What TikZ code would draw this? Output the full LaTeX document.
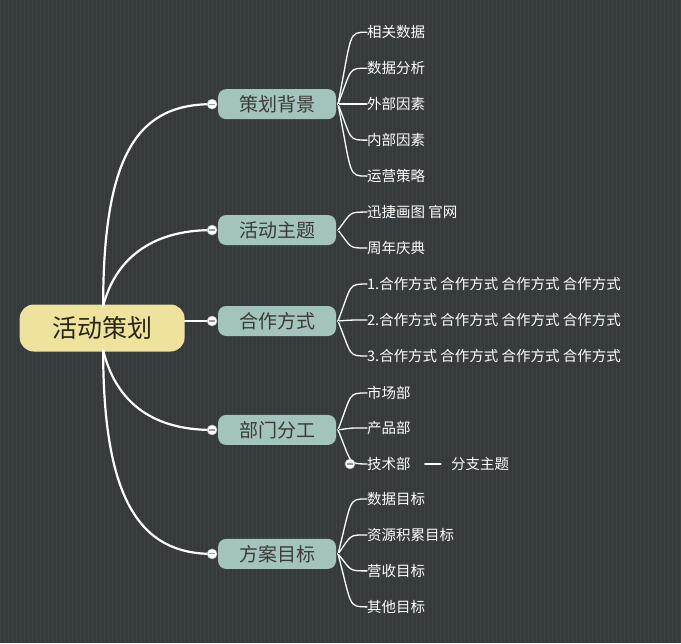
\documentclass[tikz,border=0pt]{standalone}
\usepackage{fontspec}
\setmainfont{Noto Sans CJK SC}
\usetikzlibrary{calc,positioning}
\definecolor{bgcol}{HTML}{353B3D}
\definecolor{gridcol}{HTML}{3C4244}
\definecolor{rootcol}{HTML}{EEE29C}
\definecolor{topiccol}{HTML}{A3C4BD}
\definecolor{darktxt}{HTML}{3A3A36}
\begin{document}
\begin{tikzpicture}[x=1pt,y=-1pt,
                        root/.style={fill=rootcol,rounded corners=14,minimum width=165,minimum height=47,
                        text=darktxt!80!yellow!40!black,font=\fontsize{25}{28}\selectfont},
                        topic/.style={fill=topiccol,rounded corners=8,minimum width=118,minimum height=30,
                        text=darktxt,font=\fontsize{19}{22}\selectfont},
                        leaf/.style={anchor=west,text=white,font=\fontsize{14.5}{17}\selectfont,inner sep=0},
                        link/.style={white,line width=2.2,line cap=round},
                        twig/.style={white,line width=1.3,line cap=round},
                        fold/.style={circle,fill=white,draw=gray!60,line width=0.5,minimum size=10,inner sep=0,
                        path picture={\draw[gray!80,line width=1.2] ($(path picture bounding box.west)+(2,0)$) -- ($(path picture bounding box.east)+(-2,0)$);}}
                        ]
                        % background
                        \fill[bgcol] (0,0) rectangle (681,643);
                        \draw[gridcol,line width=0.4] (0,0) grid[step=4] (681,643);
                        \useasboundingbox (0,0) rectangle (681,643);

                        \node[root] (root) at (102,328) {活动策划};
                        \coordinate (rtop) at (103,306);
                        \coordinate (rbot) at (103,350);

                        % main topics
                        \foreach \n/\y/\t in {bg/104/策划背景, zt/230/活动主题, hz/321/合作方式, bm/430/部门分工, fa/554/方案目标} {
                            \node[topic] (\n) at (277,\y) {\t};
                            \coordinate (\n-in) at (212,\y);
                            \coordinate (\n-out) at (338,\y);
                        }
                        \draw[link] (rtop) .. controls (103,150) and (140,104) .. (bg-in);
                        \draw[link] (rtop) .. controls (115,260) and (150,230) .. (zt-in);
                        \draw[link] (root.east |- hz-in) -- (hz-in);
                        \draw[link] (rbot) .. controls (115,400) and (150,430) .. (bm-in);
                        \draw[link] (rbot) .. controls (103,500) and (140,554) .. (fa-in);
                        \foreach \n in {bg,zt,hz,bm,fa} \node[fold] at (\n-in) {};

                        % leaves
                        \foreach \p/\i/\y/\t in {bg/1/32/相关数据, bg/2/68/数据分析, bg/3/104/外部因素, bg/4/140/内部因素, bg/5/176/运营策略,
                                                 zt/1/212/迅捷画图 官网, zt/2/248/周年庆典,
                                                 hz/1/284/1.合作方式 合作方式 合作方式 合作方式,
                                                 hz/2/320/2.合作方式 合作方式 合作方式 合作方式,
                                                 hz/3/356/3.合作方式 合作方式 合作方式 合作方式,
                                                 bm/1/393/市场部, bm/2/428/产品部, bm/3/464/技术部,
                                                 fa/1/499/数据目标, fa/2/535/资源积累目标, fa/3/571/营收目标, fa/4/607/其他目标} {
                            \node[leaf] (\p-\i) at (367,\y) {\t};
                            \draw[twig] (\p-out) .. controls (352,0.7*\y+0.3*\y) and (348,\y) .. (\p-\i.west) ;
                        }
                        % branch-point curves
                        \foreach \p/\i in {bg/1,bg/2,bg/3,bg/4,bg/5,zt/1,zt/2,hz/1,hz/2,hz/3,bm/1,bm/2,bm/3,fa/1,fa/2,fa/3,fa/4}
                            \draw[twig,bgcol,line width=0] (\p-out) -- (\p-out);

                        % sub topic
                        \node[leaf,right=40 of bm-3.east,anchor=west] (sub) {分支主题};
                        \draw[twig] ($(bm-3.east)+(14,0)$) -- ($(sub.west)+(-10,0)$);
                        \node[fold] at ($(bm-3.west)+(-17,0)$) {};
                    \end{tikzpicture}
\end{document}
